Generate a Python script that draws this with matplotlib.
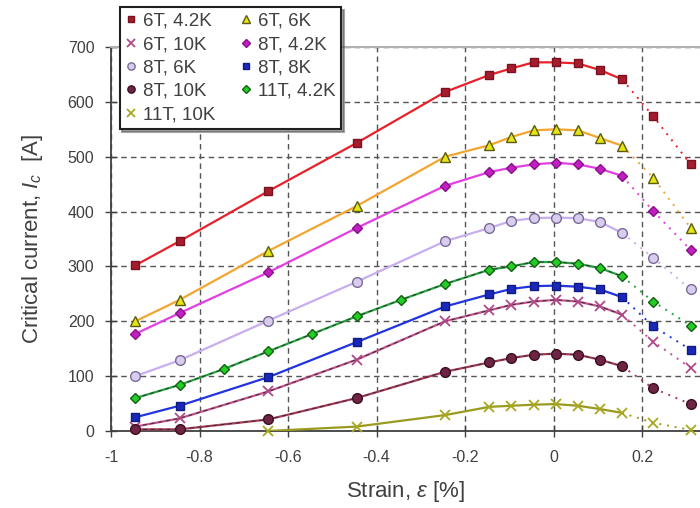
import matplotlib
matplotlib.use("Agg")
import matplotlib.pyplot as plt

plt.rcParams["font.family"] = ["Liberation Sans", "DejaVu Sans"]
plt.rcParams["mathtext.fontset"] = "custom"
plt.rcParams["mathtext.it"] = "Liberation Sans:italic"
plt.rcParams["mathtext.rm"] = "Liberation Sans"

# strain positions [%]
strain = [-0.945, -0.845, -0.645, -0.445, -0.245, -0.145, -0.095, -0.045,
          0.005, 0.055, 0.105, 0.155, 0.225, 0.31]
strain_11t_42 = [-0.945, -0.845, -0.745, -0.645, -0.545, -0.445, -0.345, -0.245,
                 -0.145, -0.095, -0.045, 0.005, 0.055, 0.105, 0.155, 0.225, 0.31]
strain_11t_10 = [-0.645, -0.445, -0.245, -0.145, -0.095, -0.045, 0.005, 0.055,
                 0.105, 0.155, 0.225, 0.31]

# critical current [A]
ic_6t_42 = [302, 346, 437, 525, 618, 649, 661, 672, 672, 670, 658, 641, 574, 486]
ic_6t_6 = [200, 239, 328, 410, 500, 521, 536, 548, 550, 548, 534, 520, 462, 370]
ic_6t_10 = [8, 23, 72, 130, 200, 220, 230, 236, 239, 236, 227, 212, 163, 115]
ic_8t_42 = [177, 215, 289, 370, 447, 472, 480, 486, 489, 486, 478, 465, 401, 330]
ic_8t_6 = [100, 129, 201, 272, 346, 370, 383, 388, 389, 388, 381, 361, 316, 258]
ic_8t_8 = [25, 46, 98, 162, 227, 249, 259, 264, 265, 263, 258, 244, 191, 148]
ic_8t_10 = [3, 3, 21, 60, 108, 125, 133, 139, 141, 139, 130, 118, 78, 49]
ic_11t_42 = [60, 84, 113, 145, 177, 209, 239, 268, 294, 300, 308, 308, 305, 297,
             282, 236, 192]
ic_11t_10 = [0, 8, 29, 44, 46, 48, 49, 46, 40, 33, 15, 2]

labels = ["6T, 4.2K", "6T, 6K", "6T, 10K", "8T, 4.2K", "8T, 6K",
          "8T, 8K", "8T, 10K", "11T, 4.2K", "11T, 10K"]
xs = [strain, strain, strain, strain, strain, strain, strain, strain_11t_42, strain_11t_10]
ys = [ic_6t_42, ic_6t_6, ic_6t_10, ic_8t_42, ic_8t_6, ic_8t_8, ic_8t_10, ic_11t_42, ic_11t_10]

# (line colour, marker, face, edge, size, dashed overlay)
styles = [
    ("#e8202a", "s", "#a51d2d", "#7a1020", 6, False),
    ("#f2a630", "^", "#e6e615", "#5a5a10", 7, False),
    ("#c4508c", "x", "#b0488a", "#b0488a", 7, True),
    ("#e23ee2", "D", "#c21fc2", "#8a108a", 5.5, False),
    ("#c6aef0", "o", "#d8cdee", "#7a6a98", 7, False),
    ("#2233e0", "s", "#1a28b8", "#101a80", 6, False),
    ("#a83858", "o", "#6e2444", "#3a1020", 7, True),
    ("#25a540", "D", "#26cc26", "#106010", 5.5, True),
    ("#9a9a20", "x", "#a8a820", "#a8a820", 7, False),
]

fig = plt.figure(figsize=(7.0, 5.08), dpi=100)
ax = fig.add_axes([0.1586, 0.1516, 0.8414, 0.7559])

handles = []
for x, y, lab, (lc, mk, fc, ec, ms, dash) in zip(xs, ys, labels, styles):
    n = len(x) - 2  # last two points beyond the irreversible limit
    ax.plot(x[:n], y[:n], color=lc, lw=1.6, zorder=3)
    if dash:
        ax.plot(x[:n], y[:n], color="#303030", lw=0.7, ls=(0, (4, 4)), zorder=3.5)
    ax.plot(x[n - 1:], y[n - 1:], color=lc, lw=1.4, ls=(0, (1, 3)), zorder=3)
    h, = ax.plot(x, y, ls="none", marker=mk, ms=ms, mfc=fc, mec=ec,
                 mew=1.0 if mk != "x" else 1.3, zorder=4, clip_on=False,
                 label=lab)
    handles.append(h)

ax.set_xlim(-1, 0.331)
ax.set_ylim(0, 700)
ax.set_xticks([-1, -0.8, -0.6, -0.4, -0.2, 0, 0.2])
ax.set_xticklabels(["-1", "-0.8", "-0.6", "-0.4", "-0.2", "0", "0.2"])
ax.set_yticks(range(0, 701, 100))

ax.grid(True, color="#555555", ls=(0, (4, 3)), lw=1.0, zorder=1)
ax.set_axisbelow(True)
ax.spines["right"].set_visible(False)
ax.spines["top"].set_color("#b0b0b0")
ax.spines["top"].set_linewidth(1.5)
for s in ("left", "bottom"):
    ax.spines[s].set_color("#404040")
    ax.spines[s].set_linewidth(1.3)
ax.tick_params(direction="inout", length=8, width=1.0, color="#404040",
               labelsize=11.5, labelcolor="#404040")
ax.tick_params(axis="x", pad=10)
ax.tick_params(axis="y", pad=8)

ax.set_xlabel(r"Strain, $\varepsilon$ [%]", fontsize=16, color="#404040", labelpad=10)
ax.set_ylabel(r"Critical current, $I_c$  [A]", fontsize=16, color="#404040", labelpad=16)

order = [0, 2, 4, 6, 8, 1, 3, 5, 7]
leg = fig.legend([handles[i] for i in order], [labels[i] for i in order],
                 ncol=2, loc="upper left", bbox_to_anchor=(0.171, 0.986),
                 fontsize=13.5, frameon=True, fancybox=False, shadow=True,
                 markerscale=0.75, handlelength=0.6, handletextpad=0.35,
                 columnspacing=1.3, labelspacing=0.33, borderpad=0.3,
                 borderaxespad=0.0)
leg.get_frame().set_edgecolor("#202020")
leg.get_frame().set_linewidth(1.5)
for t in leg.get_texts():
    t.set_color("#404040")

fig.savefig("out.png", dpi=100)
